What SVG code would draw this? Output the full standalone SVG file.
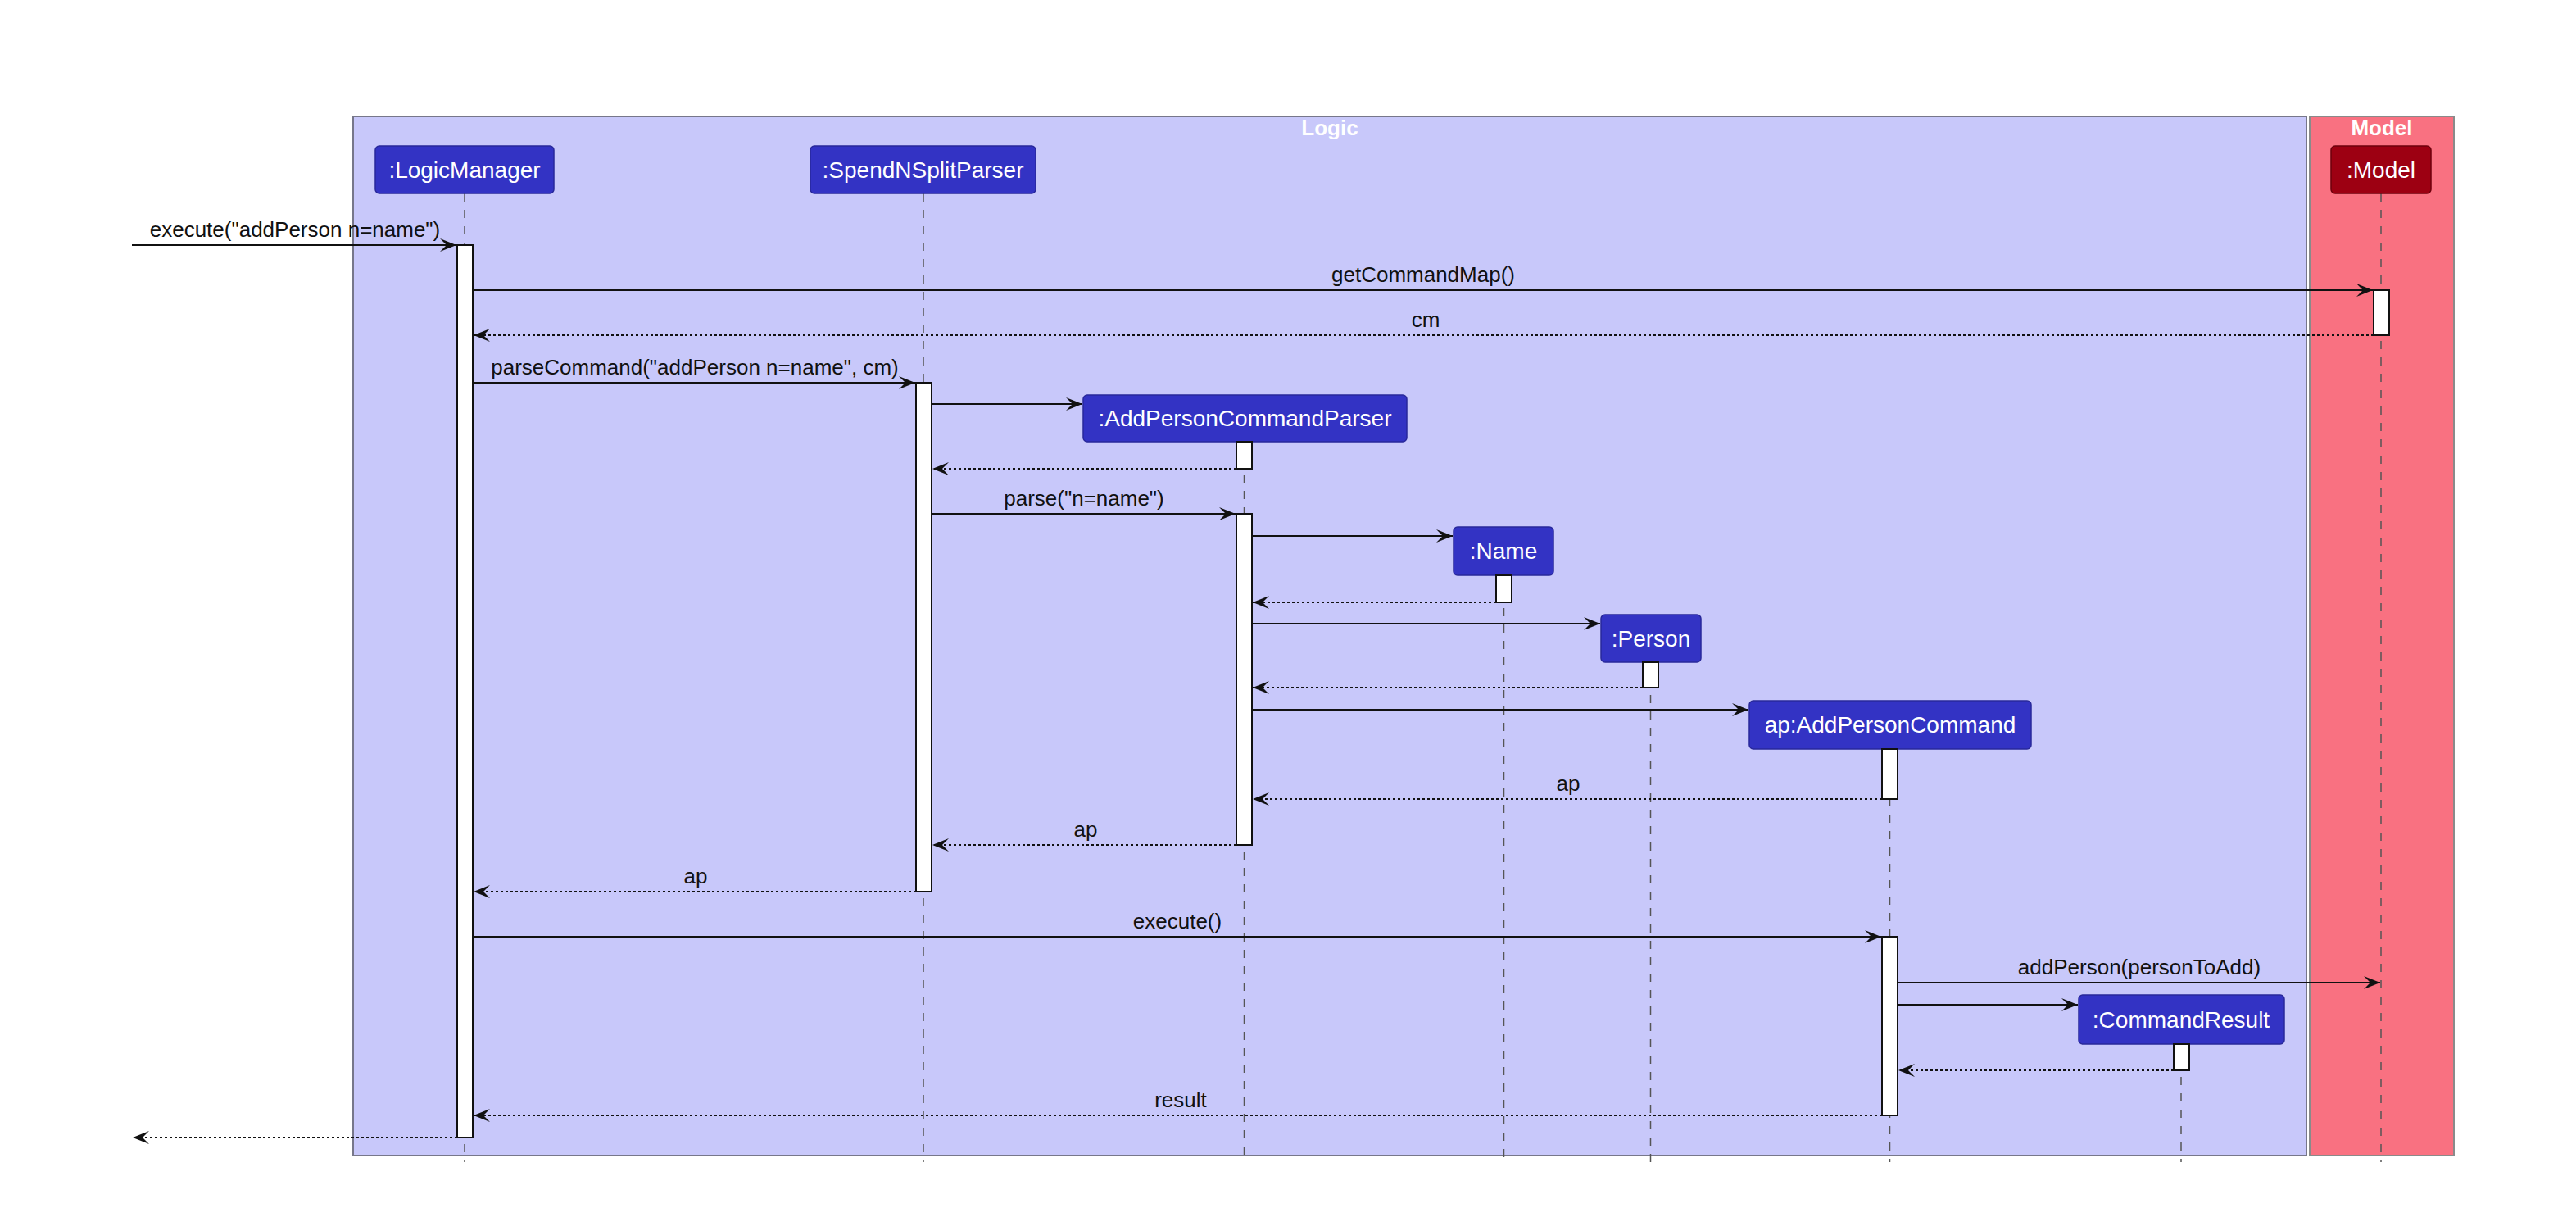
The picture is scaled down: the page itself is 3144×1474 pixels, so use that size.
<svg xmlns="http://www.w3.org/2000/svg" width="3144" height="1474" viewBox="0 0 3144 1474">
<defs>
<style>
.msg{font-family:"Liberation Sans",Arial,sans-serif;font-size:26px;fill:#111;text-anchor:middle}
.ptxt{font-family:"Liberation Sans",Arial,sans-serif;font-size:28px;fill:#fff;text-anchor:middle}
.gtitle{font-family:"Liberation Sans",Arial,sans-serif;font-size:26px;font-weight:bold;fill:#fff;text-anchor:middle}
.logicp{fill:#3333C4;stroke:#28289a;stroke-width:1.5}
.modelp{fill:#9D0012;stroke:#6e000c;stroke-width:1.5}
.life{stroke:#555;stroke-width:1.5;stroke-dasharray:10,10;fill:none}
.act{fill:#fff;stroke:#111;stroke-width:2}
.call{stroke:#111;stroke-width:2;fill:none;marker-end:url(#arr)}
.ret{stroke:#111;stroke-width:2;stroke-dasharray:3,3;fill:none;marker-end:url(#arr)}
</style>
<marker id="arr" markerUnits="userSpaceOnUse" markerWidth="22" markerHeight="18" viewBox="0 0 22 18" refX="21" refY="9" orient="auto">
<path d="M1,1 L21,9 L1,17 L9,9 Z" fill="#111"/>
</marker>
</defs>
<rect width="3144" height="1474" fill="#fff"/>
<g id="group-logic">
<rect x="431" y="142" width="2384" height="1268" fill="#C8C8FA" stroke="#77778a" stroke-width="2"/>
<text class="gtitle" x="1623" y="165">Logic</text>
</g>
<g id="group-model">
<rect x="2819" y="142" width="176" height="1268" fill="#F97181" stroke="#8a8a8a" stroke-width="2"/>
<text class="gtitle" x="2907" y="165">Model</text>
</g>
<g id="lifelines">
<line class="life" x1="567" y1="236" x2="567" y2="1418"/>
<line class="life" x1="1127" y1="236" x2="1127" y2="1418"/>
<line class="life" x1="1518.5" y1="539" x2="1518.5" y2="1418"/>
<line class="life" x1="1835.5" y1="702" x2="1835.5" y2="1418"/>
<line class="life" x1="2014.5" y1="808" x2="2014.5" y2="1418"/>
<line class="life" x1="2306.5" y1="914" x2="2306.5" y2="1418"/>
<line class="life" x1="2662" y1="1274" x2="2662" y2="1418"/>
<line class="life" x1="2906" y1="236" x2="2906" y2="1418"/>
</g>
<g id="LogicManager">
<rect class="logicp" x="458" y="178" width="218" height="58" rx="5"/>
<text class="ptxt" x="567" y="217">:LogicManager</text>
<rect class="act" x="558" y="299" width="19" height="1089"/>
</g>
<g id="SpendNSplitParser">
<rect class="logicp" x="989" y="178" width="275" height="58" rx="5"/>
<text class="ptxt" x="1126.5" y="217">:SpendNSplitParser</text>
<rect class="act" x="1118" y="467" width="19" height="621"/>
</g>
<g id="AddPersonCommandParser">
<rect class="logicp" x="1322" y="482" width="395" height="57" rx="5"/>
<text class="ptxt" x="1519.5" y="520">:AddPersonCommandParser</text>
<rect class="act" x="1509" y="539" width="19" height="33"/>
<rect class="act" x="1509" y="627" width="19" height="404"/>
</g>
<g id="Name">
<rect class="logicp" x="1774" y="643" width="122" height="59" rx="5"/>
<text class="ptxt" x="1835" y="682">:Name</text>
<rect class="act" x="1826" y="702" width="19" height="33"/>
</g>
<g id="Person">
<rect class="logicp" x="1954" y="750" width="122" height="58" rx="5"/>
<text class="ptxt" x="2015" y="789">:Person</text>
<rect class="act" x="2005" y="808" width="19" height="31"/>
</g>
<g id="AddPersonCommand">
<rect class="logicp" x="2135" y="855" width="344" height="59" rx="5"/>
<text class="ptxt" x="2307" y="894">ap:AddPersonCommand</text>
<rect class="act" x="2297" y="914" width="19" height="61"/>
<rect class="act" x="2297" y="1143" width="19" height="218"/>
</g>
<g id="CommandResult">
<rect class="logicp" x="2537" y="1214" width="251" height="60" rx="5"/>
<text class="ptxt" x="2662" y="1254">:CommandResult</text>
<rect class="act" x="2653" y="1274" width="19" height="32"/>
</g>
<g id="Model">
<rect class="modelp" x="2845" y="178" width="122" height="58" rx="5"/>
<text class="ptxt" x="2906" y="217">:Model</text>
<rect class="act" x="2897" y="354" width="19" height="55"/>
</g>
<g id="connectors">
<line class="call" x1="161" y1="299" x2="557" y2="299"/>
<text class="msg" x="360" y="289">execute("addPerson n=name")</text>
<line class="call" x1="577" y1="354" x2="2896" y2="354"/>
<text class="msg" x="1737" y="344">getCommandMap()</text>
<line class="ret" x1="2897" y1="409" x2="578" y2="409"/>
<text class="msg" x="1740" y="399">cm</text>
<line class="call" x1="577" y1="467" x2="1117" y2="467"/>
<text class="msg" x="848" y="457">parseCommand("addPerson n=name", cm)</text>
<line class="call" x1="1137" y1="493" x2="1321" y2="493"/>
<line class="ret" x1="1509" y1="572" x2="1138" y2="572"/>
<line class="call" x1="1137" y1="627" x2="1508" y2="627"/>
<text class="msg" x="1323" y="617">parse("n=name")</text>
<line class="call" x1="1528" y1="654" x2="1773" y2="654"/>
<line class="ret" x1="1826" y1="735" x2="1529" y2="735"/>
<line class="call" x1="1528" y1="761" x2="1953" y2="761"/>
<line class="ret" x1="2005" y1="839" x2="1529" y2="839"/>
<line class="call" x1="1528" y1="866" x2="2134" y2="866"/>
<line class="ret" x1="2297" y1="975" x2="1529" y2="975"/>
<text class="msg" x="1914" y="965">ap</text>
<line class="ret" x1="1509" y1="1031" x2="1138" y2="1031"/>
<text class="msg" x="1325" y="1021">ap</text>
<line class="ret" x1="1118" y1="1088" x2="578" y2="1088"/>
<text class="msg" x="849" y="1078">ap</text>
<line class="call" x1="577" y1="1143" x2="2296" y2="1143"/>
<text class="msg" x="1437" y="1133">execute()</text>
<line class="call" x1="2316" y1="1199" x2="2905" y2="1199"/>
<text class="msg" x="2611" y="1189">addPerson(personToAdd)</text>
<line class="call" x1="2316" y1="1226" x2="2536" y2="1226"/>
<line class="ret" x1="2653" y1="1306" x2="2317" y2="1306"/>
<line class="ret" x1="2297" y1="1361" x2="578" y2="1361"/>
<text class="msg" x="1441" y="1351">result</text>
<line class="ret" x1="558" y1="1388" x2="162" y2="1388"/>
</g>
</svg>
